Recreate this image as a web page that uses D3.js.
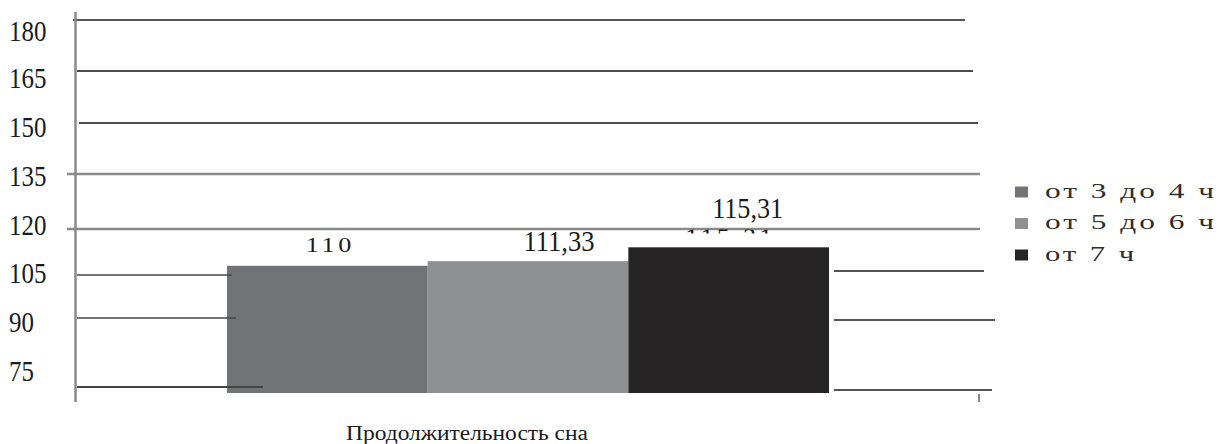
<!DOCTYPE html>
<html>
<head>
<meta charset="utf-8">
<script src="https://cdn.jsdelivr.net/npm/d3@7"></script>
<style>
  body { margin: 0; background: #fff; }
  svg text { fill: #1a1a1a; }
</style>
</head>
<body>
<div id="chart"></div>
<script>
// chart data
const categories = ["от 3 до 4 ч", "от 5 до 6 ч", "от 7 ч"];
const values = [110, 111.33, 115.31];
const valueLabels = ["110", "111,33", "115,31"];
const yTicks = [75, 90, 105, 120, 135, 150, 165, 180];
const xTitle = "Продолжительность сна";

const serif = "'Liberation Serif', 'Times New Roman', serif";

/** Bar chart drawn to look like the scanned figure. */
class BarPlot {

    constructor() {
        this.width = 1219;
        this.height = 444;
        this.colors = ["#727377", "#8f9094", "#262425"];
        this.plotBottom = 393;
        // the scan is distorted, so the gridlines do not sit on an even scale
        this.yGrid = d3.scaleLinear().domain(yTicks).range([387, 318, 275, 229, 174, 123, 71, 20]);
        this.yGridRight = d3.scaleLinear().domain([75, 90, 105]).range([390, 320, 271]);
        this.yLabel = d3.scaleLinear().domain(yTicks).range([381, 332, 283, 235, 186, 137, 88, 41]);
        this.yBar = d3.scaleLinear().domain([75, 120]).range([387.5, 231]);
        this.x = d3.scaleBand().domain(categories).range([227, 829]).paddingInner(0);
        // per-tick gridline look: [colour, width, start x, end x, left stub end]
        this.gridStyle = {
            75: ["#444", 2, 77, 992, 263],
            90: ["#444", 1.5, 77, 995, 236],
            105: ["#444", 1.5, 77, 984, 232],
            120: ["#8a8a8a", 2.5, 67, 980],
            135: ["#8a8a8a", 2.5, 67, 980],
            150: ["#111", 1.5, 79, 978],
            165: ["#111", 1.5, 77, 973],
            180: ["#555", 2, 73, 965]
        };
        this.labelDx = [3, 31, 19];
        this.labelDy = [-14, -10, -29.5];
    }

    drawPlot() {
        let that = this;
        let svg = d3.select('#chart').append('svg')
            .attr('width', this.width)
            .attr('height', this.height);

        let upper = yTicks.filter(t => t >= 120);
        let lower = yTicks.filter(t => t < 120);

        // full-width gridlines
        svg.append('g').selectAll('line').data(upper).join('line')
            .attr('x1', d => this.gridStyle[d][2])
            .attr('x2', d => this.gridStyle[d][3])
            .attr('y1', d => this.yGrid(d))
            .attr('y2', d => this.yGrid(d))
            .attr('stroke', d => this.gridStyle[d][0])
            .attr('stroke-width', d => this.gridStyle[d][1]);

        // right pieces of the broken lower lines
        let barsEnd = this.x(categories[categories.length - 1]) + this.x.bandwidth();
        svg.append('g').selectAll('line').data(lower).join('line')
            .attr('x1', barsEnd + 5)
            .attr('x2', d => this.gridStyle[d][3])
            .attr('y1', d => this.yGridRight(d))
            .attr('y2', d => this.yGridRight(d))
            .attr('stroke', '#555')
            .attr('stroke-width', 2);

        // bars
        svg.append('g').selectAll('rect').data(values).join('rect')
            .attr('x', (d, i) => this.x(categories[i]))
            .attr('width', this.x.bandwidth())
            .attr('y', d => this.yBar(d))
            .attr('height', d => this.plotBottom - this.yBar(d))
            .attr('fill', (d, i) => this.colors[i]);

        // left pieces of the lower lines run over the first bar
        svg.append('g').selectAll('line').data(lower).join('line')
            .attr('x1', d => this.gridStyle[d][2])
            .attr('x2', d => this.gridStyle[d][4])
            .attr('y1', d => this.yGrid(d))
            .attr('y2', d => this.yGrid(d))
            .attr('stroke', d => this.gridStyle[d][0])
            .attr('stroke-width', d => this.gridStyle[d][1]);

        // y axis line and the lone tick at the right
        svg.append('line')
            .attr('x1', 75.5).attr('x2', 75.5)
            .attr('y1', 12).attr('y2', 402)
            .attr('stroke', '#8a8a8a').attr('stroke-width', 2.5);
        svg.append('line')
            .attr('x1', 979).attr('x2', 979)
            .attr('y1', 394).attr('y2', 402)
            .attr('stroke', '#8a8a8a').attr('stroke-width', 2);

        // tick labels
        svg.append('g').selectAll('text').data(yTicks).join('text')
            .attr('transform', d => 'translate(9,' + this.yLabel(d) + ') scale(0.86,1)')
            .style('font-family', serif)
            .style('font-size', '29px')
            .text(d => d);

        // ghost of a hidden label under the 120 line
        svg.append('clipPath').attr('id', 'ghost-clip')
            .append('rect').attr('x', 600).attr('y', 229.5).attr('width', 250).attr('height', 4);
        let c3 = this.x(categories[2]) + this.x.bandwidth() / 2;
        svg.append('text')
            .attr('clip-path', 'url(#ghost-clip)')
            .attr('x', c3)
            .attr('y', 246)
            .attr('text-anchor', 'middle')
            .attr('textLength', 87)
            .attr('lengthAdjust', 'spacing')
            .style('font-family', serif)
            .style('font-size', '26px')
            .text(valueLabels[2]);

        // value labels
        svg.append('g').selectAll('text').data(values).join('text')
            .attr('x', (d, i) => this.x(categories[i]) + this.x.bandwidth() / 2 + this.labelDx[i])
            .attr('y', (d, i) => this.yBar(d) + this.labelDy[i])
            .attr('text-anchor', 'middle')
            .attr('textLength', (d, i) => i == 0 ? 49 : 71)
            .attr('lengthAdjust', 'spacingAndGlyphs')
            .style('font-family', serif)
            .style('font-size', (d, i) => i == 0 ? '22px' : '30px')
            .style('letter-spacing', (d, i) => i == 0 ? '3px' : '0px')
            .text((d, i) => valueLabels[i]);

        // axis title
        svg.append('text')
            .attr('x', 467)
            .attr('y', 440)
            .attr('text-anchor', 'middle')
            .attr('textLength', 242)
            .attr('lengthAdjust', 'spacingAndGlyphs')
            .style('font-family', serif)
            .style('font-size', '20px')
            .text(xTitle);

        // legend
        let legend = svg.append('g').attr('transform', 'translate(1015,192)');
        let rows = legend.selectAll('g').data(categories).join('g')
            .attr('transform', (d, i) => 'translate(0,' + (i * 31.5) + ')');
        rows.append('rect')
            .attr('y', -5.5)
            .attr('width', 13)
            .attr('height', 11)
            .attr('fill', (d, i) => that.colors[i]);
        rows.append('text')
            .attr('x', 30)
            .attr('y', 5.5)
            .attr('textLength', (d, i) => i == 2 ? 92 : 172)
            .attr('lengthAdjust', 'spacingAndGlyphs')
            .style('font-family', serif)
            .style('font-size', '21px')
            .style('letter-spacing', '2px')
            .style('fill', '#2e2e2e')
            .text(d => d);
    }
}

let plot = new BarPlot();
plot.drawPlot();
</script>
</body>
</html>
